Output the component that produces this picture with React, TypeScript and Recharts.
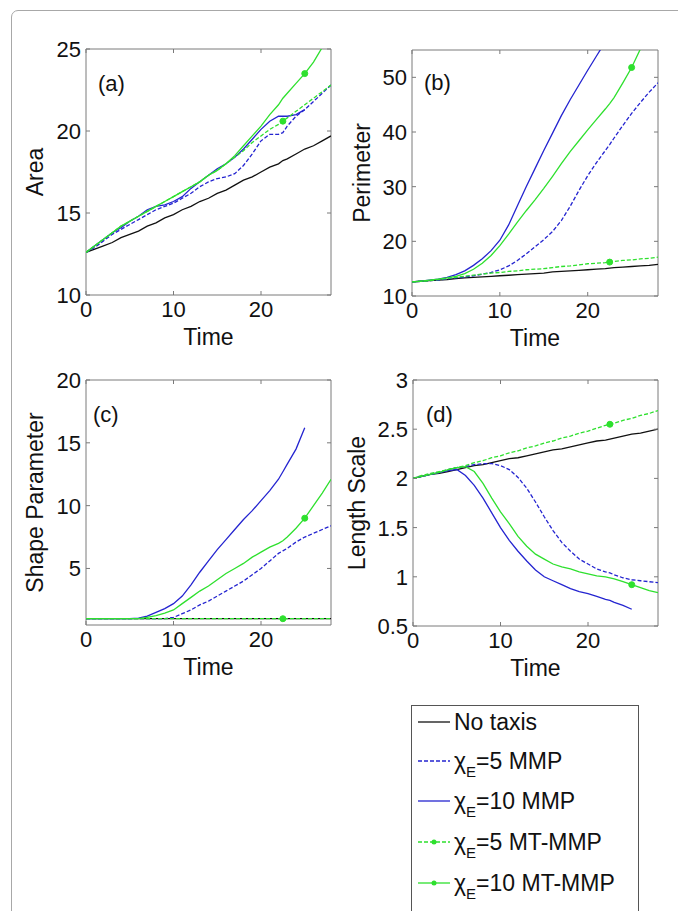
import { LineChart, Line, XAxis, YAxis, ReferenceArea } from 'recharts'

// time grid shared by all panels (extra point at 22.5 for the MT-MMP marker)
const TIME = [0, 1, 2, 3, 4, 5, 6, 7, 8, 9, 10, 11, 12, 13, 14, 15, 16, 17, 18, 19, 20, 21, 22, 22.5, 23, 24, 25, 26, 27, 28]

// (a) Area
const AREA_NO_TAXIS = [12.6, 12.8, 13.0, 13.2, 13.5, 13.7, 13.9, 14.2, 14.4, 14.7, 14.9, 15.2, 15.4, 15.7, 15.9, 16.2, 16.4, 16.7, 17.0, 17.2, 17.5, 17.8, 18.0, 18.2, 18.3, 18.6, 18.9, 19.1, 19.4, 19.7]
const AREA_CHI5_MMP = [12.6, 12.9, 13.3, 13.7, 14.0, 14.3, 14.6, 14.9, 15.2, 15.4, 15.6, 15.9, 16.2, 16.6, 16.9, 17.1, 17.2, 17.4, 17.9, 18.6, 19.4, 19.8, 19.8, 19.9, 20.3, 20.9, 21.3, 21.8, 22.3, 22.8]
const AREA_CHI10_MMP = [12.6, 13.0, 13.4, 13.8, 14.1, 14.5, 14.8, 15.2, 15.4, 15.5, 15.7, 16.0, 16.5, 16.9, 17.3, 17.7, 18.0, 18.4, 18.9, 19.5, 20.1, 20.6, 20.9, 20.9, 20.9, 21.0, 21.3, null, null, null]
const AREA_CHI5_MT = [12.6, 13.0, 13.4, 13.8, 14.2, 14.5, 14.8, 15.1, 15.4, 15.7, 16.0, 16.3, 16.6, 16.9, 17.3, 17.6, 18.0, 18.4, 18.8, 19.3, 19.7, 20.1, 20.4, 20.6, 20.8, 21.2, 21.6, 22.0, 22.4, 22.8]
const AREA_CHI10_MT = [12.6, 13.0, 13.4, 13.8, 14.2, 14.5, 14.8, 15.1, 15.4, 15.7, 16.0, 16.3, 16.6, 16.9, 17.3, 17.6, 18.0, 18.5, 19.1, 19.7, 20.3, 21.0, 21.6, 22.0, 22.3, 22.9, 23.5, 24.2, 25.1, 26.2]

// (b) Perimeter
const PERIM_NO_TAXIS = [12.6, 12.7, 12.8, 12.9, 13.0, 13.2, 13.3, 13.4, 13.5, 13.6, 13.7, 13.8, 13.9, 14.0, 14.1, 14.2, 14.4, 14.5, 14.6, 14.7, 14.8, 14.9, 15.0, 15.1, 15.2, 15.3, 15.4, 15.5, 15.6, 15.8]
const PERIM_CHI5_MMP = [12.6, 12.7, 12.8, 12.9, 13.1, 13.3, 13.5, 13.7, 14.0, 14.3, 14.8, 15.5, 16.5, 17.7, 19.0, 20.3, 21.8, 23.8, 26.4, 29.3, 32.0, 34.4, 36.6, 37.7, 38.9, 41.2, 43.4, 45.4, 47.3, 49.0]
const PERIM_CHI10_MMP = [12.6, 12.7, 12.9, 13.1, 13.4, 13.9, 14.6, 15.6, 16.8, 18.3, 20.2, 23.0, 26.5, 30.0, 33.3, 36.6, 39.8, 43.0, 45.9, 48.6, 51.3, 53.9, 56.5, 57.8, 59.0, 61.5, 64.0, null, null, null]
const PERIM_CHI5_MT = [12.6, 12.7, 12.8, 13.0, 13.2, 13.4, 13.6, 13.8, 14.0, 14.2, 14.3, 14.5, 14.6, 14.8, 14.9, 15.0, 15.2, 15.4, 15.5, 15.7, 15.9, 16.0, 16.1, 16.2, 16.3, 16.5, 16.6, 16.8, 16.9, 17.1]
const PERIM_CHI10_MT = [12.6, 12.7, 12.9, 13.1, 13.3, 13.6, 14.1, 14.9, 16.0, 17.4, 19.2, 21.3, 23.5, 25.6, 27.6, 29.7, 31.9, 34.2, 36.4, 38.4, 40.4, 42.3, 44.2, 45.2, 46.3, 49.0, 51.8, 55.2, 59.0, 63.0]

// (c) Shape Parameter
const SHAPE_NO_TAXIS = [1, 1, 1, 1, 1, 1, 1, 1, 1, 1, 1, 1, 1, 1, 1, 1, 1, 1, 1, 1, 1, 1, 1, 1, 1, 1, 1, 1, 1, 1]
const SHAPE_CHI5_MMP = [1, 1, 1, 1, 1, 1, 1, 1, 1, 1, 1.1, 1.4, 1.7, 2.1, 2.4, 2.8, 3.2, 3.6, 4.0, 4.5, 5.0, 5.6, 6.2, 6.4, 6.6, 7.1, 7.5, 7.8, 8.1, 8.4]
const SHAPE_CHI10_MMP = [1, 1, 1, 1, 1, 1, 1.05, 1.2, 1.5, 1.8, 2.2, 2.8, 3.7, 4.7, 5.6, 6.5, 7.3, 8.1, 8.9, 9.6, 10.4, 11.2, 12.1, 12.7, 13.3, 14.5, 16.2, null, null, null]
const SHAPE_CHI5_MT = [1, 1, 1, 1, 1, 1, 1, 1, 1, 1, 1, 1, 1, 1, 1, 1, 1, 1, 1, 1, 1, 1, 1, 1, 1, 1, 1, 1, 1, 1]
const SHAPE_CHI10_MT = [1, 1, 1, 1, 1, 1, 1, 1.1, 1.25, 1.45, 1.7, 2.2, 2.7, 3.2, 3.6, 4.1, 4.6, 5.0, 5.4, 5.9, 6.3, 6.7, 7.0, 7.2, 7.5, 8.2, 9.0, 10.0, 11.0, 12.1]

// (d) Length Scale
const LENGTH_NO_TAXIS = [2.0, 2.02, 2.04, 2.05, 2.07, 2.09, 2.11, 2.13, 2.14, 2.16, 2.18, 2.2, 2.21, 2.23, 2.25, 2.27, 2.29, 2.3, 2.32, 2.34, 2.36, 2.38, 2.39, 2.4, 2.41, 2.43, 2.45, 2.46, 2.48, 2.5]
const LENGTH_CHI5_MMP = [2.0, 2.02, 2.04, 2.06, 2.09, 2.11, 2.12, 2.14, 2.15, 2.15, 2.13, 2.09, 2.01, 1.9, 1.76, 1.61, 1.47, 1.35, 1.26, 1.18, 1.13, 1.08, 1.05, 1.04, 1.02, 0.99, 0.97, 0.96, 0.95, 0.94]
const LENGTH_CHI10_MMP = [2.0, 2.02, 2.04, 2.06, 2.08, 2.09, 2.03, 1.93, 1.8, 1.65, 1.5, 1.37, 1.26, 1.16, 1.07, 1.0, 0.96, 0.92, 0.88, 0.85, 0.83, 0.8, 0.77, 0.76, 0.74, 0.71, 0.67, null, null, null]
const LENGTH_CHI5_MT = [2.0, 2.03, 2.05, 2.07, 2.09, 2.11, 2.13, 2.16, 2.18, 2.21, 2.23, 2.26, 2.28, 2.31, 2.33, 2.36, 2.38, 2.41, 2.43, 2.46, 2.48, 2.51, 2.54, 2.55, 2.56, 2.59, 2.61, 2.64, 2.66, 2.69]
const LENGTH_CHI10_MT = [2.0, 2.02, 2.04, 2.06, 2.09, 2.11, 2.12, 2.07, 1.95, 1.8, 1.66, 1.54, 1.41, 1.31, 1.23, 1.18, 1.13, 1.1, 1.08, 1.05, 1.03, 1.01, 1.0, 0.99, 0.98, 0.95, 0.92, 0.89, 0.86, 0.84]

const X_TICKS = [0, 10, 20]
const AREA_TICKS = [10, 15, 20, 25]
const PERIM_TICKS = [10, 20, 30, 40, 50]
const SHAPE_TICKS = [5, 10, 15, 20]
const LENGTH_TICKS = [0.5, 1, 1.5, 2, 2.5, 3]

const BLACK = '#111111'
const BLUE = '#2424d0'
const GREEN = '#2ee02e'
const FRAME = '#7a7a7a'
const FONT = 'Liberation Sans, Arial, sans-serif'

const SERIES = [
  { key: 'noTaxis', name: 'No taxis', chi: '', model: '', color: BLACK, dash: undefined, mark: null },
  { key: 'chi5MMP', name: 'χE=5 MMP', chi: '5', model: 'MMP', color: BLUE, dash: '4 2', mark: null },
  { key: 'chi10MMP', name: 'χE=10 MMP', chi: '10', model: 'MMP', color: BLUE, dash: undefined, mark: null },
  { key: 'chi5MT', name: 'χE=5 MT-MMP', chi: '5', model: 'MT-MMP', color: GREEN, dash: '4 2', mark: 22.5 },
  { key: 'chi10MT', name: 'χE=10 MT-MMP', chi: '10', model: 'MT-MMP', color: GREEN, dash: undefined, mark: 25 },
]

const PANELS = [
  { id: 'a', title: 'Area', left: 86, top: 49, w: 245, h: 246, domain: [10, 25], ticks: AREA_TICKS, titleDx: -51, letterX: 12, letterY: 42,
    values: [AREA_NO_TAXIS, AREA_CHI5_MMP, AREA_CHI10_MMP, AREA_CHI5_MT, AREA_CHI10_MT] },
  { id: 'b', title: 'Perimeter', left: 412, top: 50, w: 246, h: 246, domain: [10, 55], ticks: PERIM_TICKS, titleDx: -50, letterX: 12, letterY: 40,
    values: [PERIM_NO_TAXIS, PERIM_CHI5_MMP, PERIM_CHI10_MMP, PERIM_CHI5_MT, PERIM_CHI10_MT] },
  { id: 'c', title: 'Shape Parameter', left: 86, top: 380, w: 245, h: 245, domain: [0.5, 20], ticks: SHAPE_TICKS, titleDx: -51, letterX: 7, letterY: 42,
    values: [SHAPE_NO_TAXIS, SHAPE_CHI5_MMP, SHAPE_CHI10_MMP, SHAPE_CHI5_MT, SHAPE_CHI10_MT] },
  { id: 'd', title: 'Length Scale', left: 413, top: 380, w: 245, h: 246, domain: [0.5, 3], ticks: LENGTH_TICKS, titleDx: -56, letterX: 13, letterY: 42,
    values: [LENGTH_NO_TAXIS, LENGTH_CHI5_MMP, LENGTH_CHI10_MMP, LENGTH_CHI5_MT, LENGTH_CHI10_MT] },
]

const ML = 80
const MT = 20
const MR = 15
const MB = 70

function markerDot(markT: number | null, color: string) {
  return (p: any) => {
    if (markT == null || p.payload?.t !== markT || p.cy == null) return <g key={`m-${p.index}`} />
    return <circle key={`m-${p.index}`} cx={p.cx} cy={p.cy} r={3} fill={color} stroke={color} />
  }
}

function Panel({ panel }: { panel: (typeof PANELS)[number] }) {
  const { w, h } = panel
  const right = ML + w
  const bottom = MT + h
  const data = TIME.map((t, i) => {
    const row: Record<string, number | null> = { t }
    SERIES.forEach((s, j) => { row[s.key] = panel.values[j][i] })
    return row
  })

  const xTick = (p: any) => (
    <g>
      <line x1={p.x} x2={p.x} y1={bottom} y2={bottom - 4} stroke={FRAME} />
      <line x1={p.x} x2={p.x} y1={MT} y2={MT + 4} stroke={FRAME} />
      <text x={p.x} y={bottom + 22} textAnchor="middle" fontSize={22} fontFamily={FONT} fill="#111">{p.payload.value}</text>
    </g>
  )
  const yTick = (p: any) => (
    <g>
      <line x1={ML} x2={ML + 4} y1={p.y} y2={p.y} stroke={FRAME} />
      <line x1={right} x2={right - 4} y1={p.y} y2={p.y} stroke={FRAME} />
      <text x={ML - 5} y={p.y} dy="0.36em" textAnchor="end" fontSize={22} fontFamily={FONT} fill="#111">{p.payload.value}</text>
    </g>
  )

  return (
    <div style={{ position: 'absolute', left: panel.left - ML, top: panel.top - MT }}>
      <LineChart width={ML + w + MR} height={MT + h + MB} data={data} margin={{ top: MT, right: MR, bottom: 0, left: 0 }}>
        <XAxis
          dataKey="t"
          type="number"
          domain={[0, 28]}
          ticks={X_TICKS}
          interval={0}
          allowDataOverflow
          axisLine={false}
          tickLine={false}
          height={MB}
          tick={xTick}
          label={{
            content: () => (
              <text x={ML + w / 2} y={bottom + 50} textAnchor="middle" fontSize={23} fontFamily={FONT} fill="#111">Time</text>
            ),
          }}
        />
        <YAxis
          type="number"
          domain={panel.domain}
          ticks={panel.ticks}
          interval={0}
          allowDataOverflow
          axisLine={false}
          tickLine={false}
          width={ML}
          tick={yTick}
          label={{
            content: () => (
              <text
                x={ML + panel.titleDx}
                y={MT + h / 2}
                transform={`rotate(-90 ${ML + panel.titleDx} ${MT + h / 2})`}
                textAnchor="middle"
                dominantBaseline="central"
                fontSize={23}
                fontFamily={FONT}
                fill="#111"
              >
                {panel.title}
              </text>
            ),
          }}
        />
        <ReferenceArea
          x1={0}
          x2={28}
          y1={panel.domain[0]}
          y2={panel.domain[1]}
          fill="none"
          fillOpacity={0}
          stroke={FRAME}
          strokeWidth={1}
          label={{
            content: () => (
              <text x={ML + panel.letterX} y={MT + panel.letterY} fontSize={22} fontFamily={FONT} fill="#111">({panel.id})</text>
            ),
          }}
        />
        {SERIES.map((s) => (
          <Line
            key={s.key}
            dataKey={s.key}
            name={s.name}
            type="linear"
            stroke={s.color}
            strokeWidth={1.3}
            strokeDasharray={s.dash}
            dot={markerDot(s.mark, s.color)}
            activeDot={false}
            isAnimationActive={false}
          />
        ))}
      </LineChart>
    </div>
  )
}

const LEGEND_ROWS = [16, 55, 95, 136, 177]

function LegendBox() {
  return (
    <div style={{ position: 'absolute', left: 411, top: 705, width: 226, height: 230, border: '1px solid #555', background: '#fff' }}>
      <svg width={226} height={230}>
        {SERIES.map((s, i) => {
          const y = LEGEND_ROWS[i]
          return (
            <g key={s.key}>
              <line x1={6} x2={38} y1={y} y2={y} stroke={s.color} strokeWidth={1.3} strokeDasharray={s.dash} />
              {s.mark != null && <circle cx={22} cy={y} r={2.5} fill={s.color} />}
              <text x={42} y={y + 8} fontSize={23} fontFamily={FONT} fill="#111">
                {s.chi ? (
                  <>
                    <tspan>χ</tspan>
                    <tspan dy={8} fontSize={15}>E</tspan>
                    <tspan dy={-8}>{`=${s.chi} ${s.model}`}</tspan>
                  </>
                ) : (
                  s.name
                )}
              </text>
            </g>
          )
        })}
      </svg>
    </div>
  )
}

export default function App() {
  return (
    <div style={{ position: 'absolute', left: 0, top: 0, width: 678, height: 911, overflow: 'hidden', background: '#fff', fontFamily: FONT }}>
      <div style={{ position: 'absolute', left: 11, top: 10, width: 720, height: 960, border: '1px solid #a8a8a8', borderRadius: 7 }} />
      {PANELS.map((p) => (
        <Panel key={p.id} panel={p} />
      ))}
      <LegendBox />
    </div>
  )
}
